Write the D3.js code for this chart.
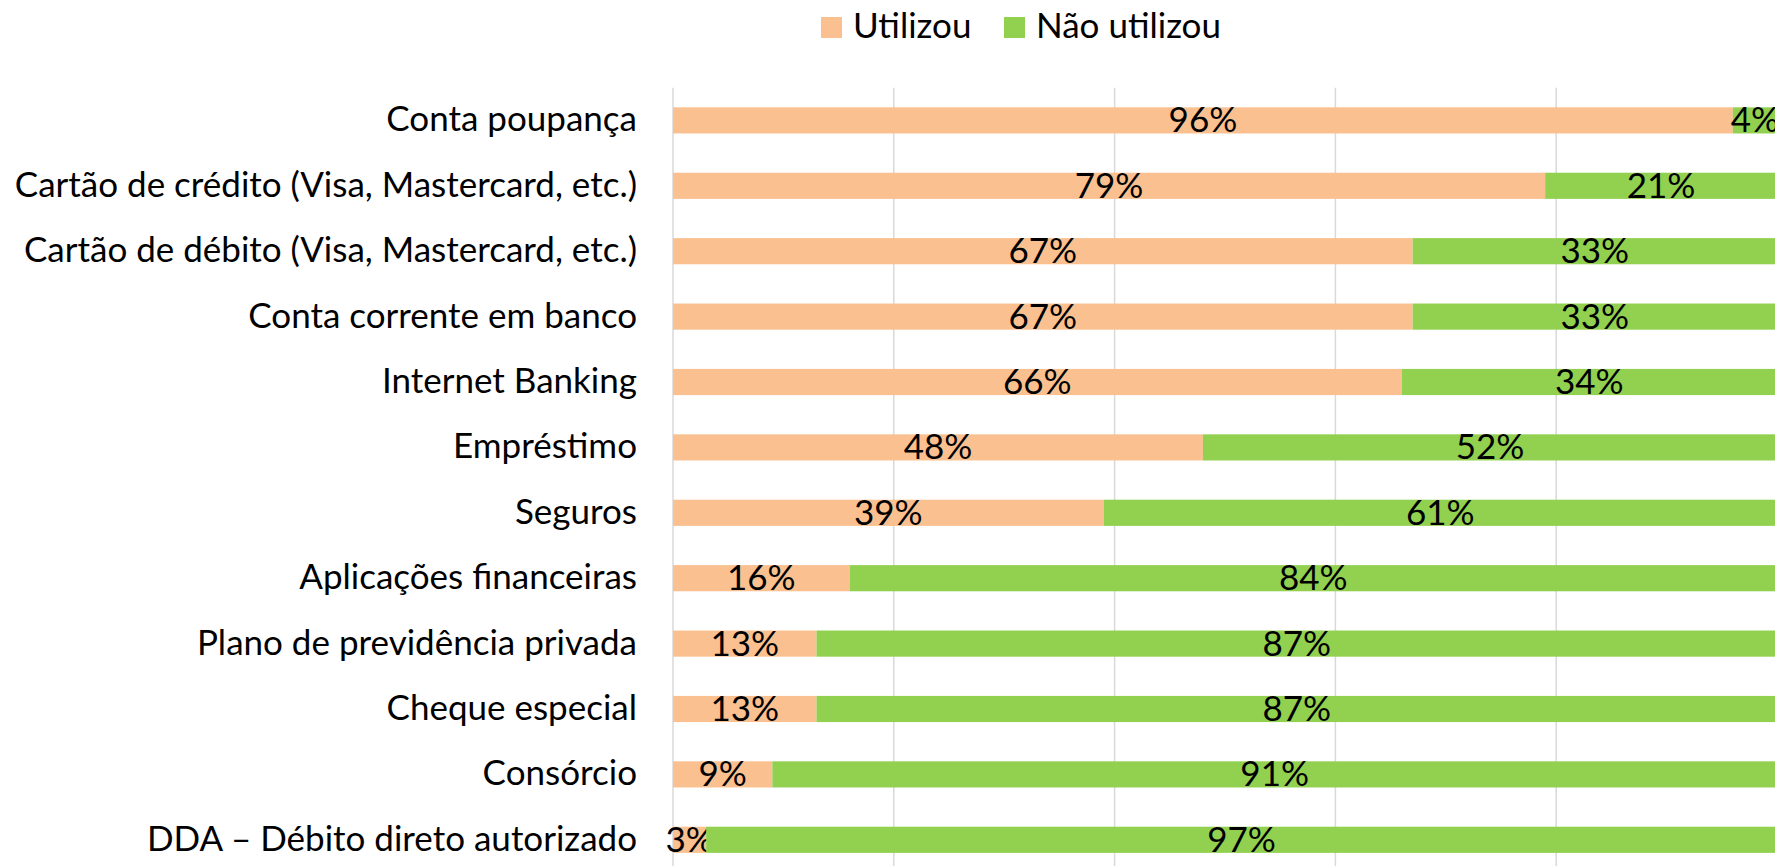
<!DOCTYPE html>
<html>
<head>
<meta charset="utf-8">
<script src="https://d3js.org/d3.v7.min.js"></script>
<style>
  body { margin: 0; background: #fff; }
  text { font-family: Lato, "Open Sans", sans-serif; fill: #000; }
</style>
</head>
<body>
<svg width="1775" height="866"></svg>
<script>
var categories = [
  "Conta poupança",
  "Cartão de crédito (Visa, Mastercard, etc.)",
  "Cartão de débito (Visa, Mastercard, etc.)",
  "Conta corrente em banco",
  "Internet Banking",
  "Empréstimo",
  "Seguros",
  "Aplicações financeiras",
  "Plano de previdência privada",
  "Cheque especial",
  "Consórcio",
  "DDA – Débito direto autorizado"
];
var utilizou    = [96, 79, 67, 67, 66, 48, 39, 16, 13, 13, 9, 3];
var naoUtilizou = [4, 21, 33, 33, 34, 52, 61, 84, 87, 87, 91, 97];
var seriesNames = ["Utilizou", "Não utilizou"];
var colors = ["#FAC090", "#92D050"];
var gridTicks = [0, 20, 40, 60, 80, 100];

var svg = d3.select("svg");
var fontSize = 35;

var x = d3.scaleLinear().domain([0, 100]).range([673, 1777]);
var y = d3.scaleBand().domain(categories).range([87.7, 872.5])
  .paddingInner(0.6).paddingOuter(0.3);

// gridlines
svg.append("g").selectAll("line")
  .data(gridTicks)
  .enter().append("line")
  .attr("x1", function(d) { return x(d); })
  .attr("x2", function(d) { return x(d); })
  .attr("y1", 87.7)
  .attr("y2", 872.5)
  .attr("stroke", "#d9d9d9")
  .attr("stroke-width", 1.5);

// stacked data
var rows = categories.map(function(c, i) {
  return { cat: c, Utilizou: utilizou[i], "Não utilizou": naoUtilizou[i] };
});
var stacked = d3.stack().keys(seriesNames)(rows);

var layers = svg.append("g").selectAll("g")
  .data(stacked)
  .enter().append("g")
  .attr("fill", function(d, i) { return colors[i]; });

layers.selectAll("rect")
  .data(function(d) { return d; })
  .enter().append("rect")
  .attr("x", function(d) { return x(d[0]); })
  .attr("width", function(d) { return x(d[1]) - x(d[0]); })
  .attr("y", function(d) { return y(d.data.cat); })
  .attr("height", y.bandwidth());

layers.selectAll("text")
  .data(function(d) { return d; })
  .enter().append("text")
  .attr("x", function(d) { return (x(d[0]) + x(d[1])) / 2; })
  .attr("y", function(d) { return y(d.data.cat) + y.bandwidth() / 2 + 12; })
  .attr("text-anchor", "middle")
  .style("font-size", fontSize + "px")
  .text(function(d) { return (d[1] - d[0]) + "%"; });

// category labels
svg.append("g").selectAll("text")
  .data(categories)
  .enter().append("text")
  .attr("x", 637)
  .attr("y", function(d) { return y(d) + y.bandwidth() / 2 + 11; })
  .attr("text-anchor", "end")
  .style("font-size", fontSize + "px")
  .text(function(d) { return d; });

// legend
var legendX = [821, 1004];
var legend = svg.append("g").selectAll("g")
  .data(seriesNames)
  .enter().append("g")
  .attr("transform", function(d, i) { return "translate(" + legendX[i] + ",0)"; });

legend.append("rect")
  .attr("y", 17)
  .attr("width", 21)
  .attr("height", 21)
  .attr("fill", function(d, i) { return colors[i]; });

legend.append("text")
  .attr("x", 32)
  .attr("y", 37.5)
  .style("font-size", fontSize + "px")
  .text(function(d) { return d; });
</script>
</body>
</html>
